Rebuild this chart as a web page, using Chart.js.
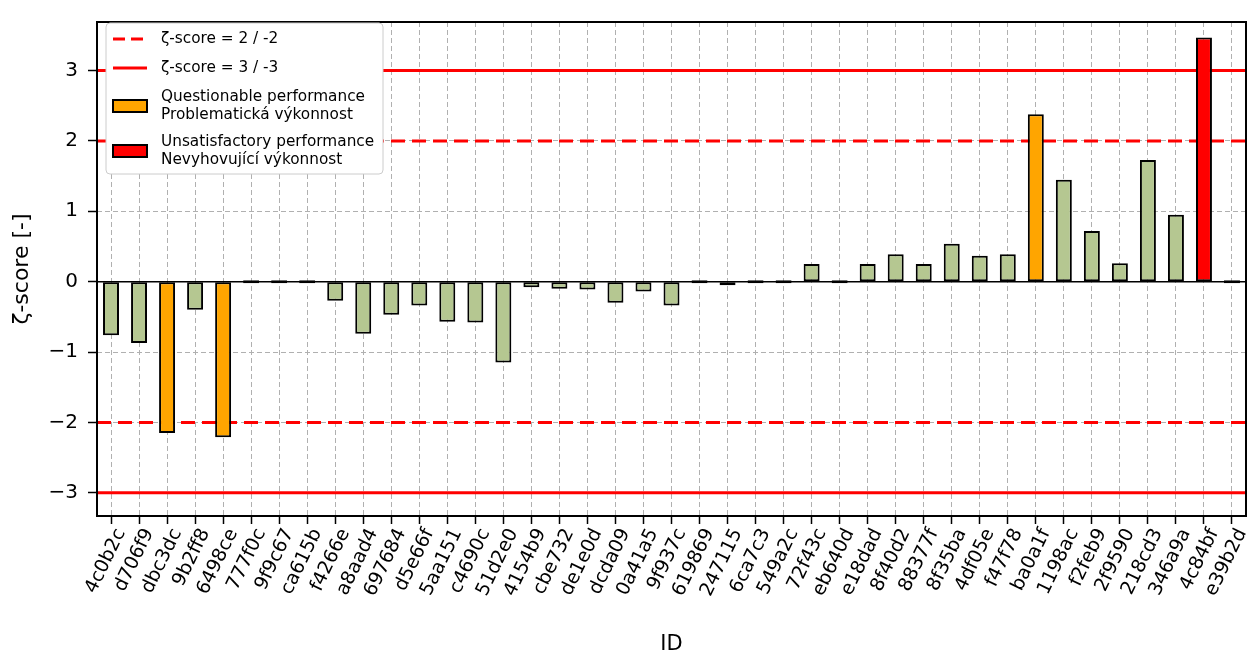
<!DOCTYPE html>
<html>
<head>
<meta charset="utf-8">
<script src="https://cdn.jsdelivr.net/npm/chart.js@4"></script>
<style>
  html, body { margin: 0; padding: 0; background: #fff; }
  #wrap { width: 1259px; height: 657px; position: relative; }
</style>
</head>
<body>
<div id="wrap"><canvas id="chart"></canvas></div>
<script>
// lab IDs and their zeta-scores
const ids = ['4c0b2c', 'd706f9', 'dbc3dc', '9b2ff8', '6498ce', '777f0c', '9f9c67', 'ca615b',
  'f4266e', 'a8aad4', '697684', 'd5e66f', '5aa151', 'c4690c', '51d2e0', '4154b9', 'cbe732',
  'de1e0d', 'dcda09', '0a41a5', '9f937c', '619869', '247115', '6ca7c3', '549a2c', '72f43c',
  'eb640d', 'e18dad', '8f40d2', '88377f', '8f35ba', '4df05e', 'f47f78', 'ba0a1f', '1198ac',
  'f2feb9', '2f9590', '218cd3', '346a9a', '4c84bf', 'e39b2d'];
const zScores = [-0.76, -0.87, -2.15, -0.40, -2.21, 0, 0, 0,
  -0.27, -0.74, -0.47, -0.34, -0.57, -0.58, -1.15, -0.08, -0.10,
  -0.11, -0.30, -0.14, -0.34, 0, -0.05, 0, 0, 0.25,
  0, 0.25, 0.39, 0.25, 0.54, 0.37, 0.39, 2.38, 1.45,
  0.72, 0.26, 1.73, 0.95, 3.47, 0];
const yTicks = [-3, -2, -1, 0, 1, 2, 3];
const warnLevels = [2, -2];
const actionLevels = [3, -3];

const GREEN = '#b5c791';
const ORANGE = '#ffa500';
const RED = '#ff0000';

function barColor(z) {
  const a = Math.abs(z);
  if (a >= 3) return RED;
  if (a >= 2) return ORANGE;
  return GREEN;
}

const minus = v => (v < 0 ? '\u2212' + Math.abs(v) : String(v));

const refLines = {
  id: 'refLines',
  beforeDatasetsDraw(chart) {
    const { ctx, chartArea: a, scales: { y } } = chart;
    ctx.save();
    ctx.beginPath();
    ctx.rect(a.left, a.top, a.right - a.left, a.bottom - a.top);
    ctx.clip();
    const hline = (v, color, w, dash) => {
      const py = y.getPixelForValue(v);
      ctx.beginPath();
      ctx.strokeStyle = color;
      ctx.lineWidth = w;
      ctx.setLineDash(dash);
      ctx.moveTo(a.left, py);
      ctx.lineTo(a.right, py);
      ctx.stroke();
    };
    hline(0, '#000', 1.5, []);
    warnLevels.forEach(v => hline(v, RED, 3, [14, 7]));
    actionLevels.forEach(v => hline(v, RED, 3, []));
    ctx.restore();
  },
  afterDraw(chart) {
    const { ctx, chartArea: a } = chart;
    ctx.save();
    // frame
    ctx.strokeStyle = '#000';
    ctx.lineWidth = 2;
    ctx.setLineDash([]);
    ctx.strokeRect(a.left, a.top, a.right - a.left, a.bottom - a.top);

    // legend box
    const bx = a.left + 9, by = a.top + 1, bw = 277, bh = 151;
    ctx.beginPath();
    ctx.roundRect(bx, by, bw, bh, 4);
    ctx.fillStyle = '#fff';
    ctx.fill();
    ctx.strokeStyle = '#cccccc';
    ctx.lineWidth = 1;
    ctx.stroke();

    ctx.font = '15.3px "DejaVu Sans"';
    ctx.fillStyle = '#000';
    ctx.textBaseline = 'middle';
    const tx = bx + 55;
    const sx0 = bx + 7, sx1 = bx + 41;

    const lineEntry = (yy, dash, text) => {
      ctx.beginPath();
      ctx.strokeStyle = RED;
      ctx.lineWidth = 3;
      ctx.setLineDash(dash);
      ctx.moveTo(sx0, yy);
      ctx.lineTo(sx1, yy);
      ctx.stroke();
      ctx.setLineDash([]);
      ctx.fillStyle = '#000';
      ctx.fillText(text, tx, yy);
    };
    const patchEntry = (yy, color, lines) => {
      ctx.fillStyle = color;
      ctx.fillRect(sx0, yy - 6, sx1 - sx0, 12);
      ctx.strokeStyle = '#000';
      ctx.lineWidth = 2;
      ctx.strokeRect(sx0, yy - 6, sx1 - sx0, 12);
      ctx.fillStyle = '#000';
      ctx.fillText(lines[0], tx, yy - 9);
      ctx.fillText(lines[1], tx, yy + 9);
    };
    lineEntry(by + 16, [12, 6], '\u03b6-score = 2 / -2');
    lineEntry(by + 45, [], '\u03b6-score = 3 / -3');
    patchEntry(by + 83, ORANGE, ['Questionable performance', 'Problematick\u00e1 v\u00fdkonnost']);
    patchEntry(by + 128, RED, ['Unsatisfactory performance', 'Nevyhovuj\u00edc\u00ed v\u00fdkonnost']);
    ctx.restore();
  }
};

const gridOpts = {
  color: '#b0b0b0',
  lineWidth: 1,
  drawTicks: true,
  tickLength: 8,
  tickColor: '#000',
  tickWidth: 1.5,
  tickBorderDash: []
};

new Chart(document.getElementById('chart'), {
  type: 'bar',
  data: {
    labels: ids,
    datasets: [{
      data: zScores,
      backgroundColor: zScores.map(barColor),
      borderColor: '#000',
      borderWidth: 2,
      borderSkipped: false,
      minBarLength: 3,
      barPercentage: 0.57,
      categoryPercentage: 1.0
    }]
  },
  options: {
    responsive: true,
    maintainAspectRatio: false,
    animation: false,
    devicePixelRatio: 1,
    layout: { padding: { top: 20, right: 13, left: 0, bottom: 0 } },
    plugins: {
      legend: { display: false },
      tooltip: { enabled: false }
    },
    scales: {
      x: {
        offset: true,
        grid: Object.assign({ offset: false }, gridOpts),
        border: { display: false, dash: [5, 3] },
        ticks: {
          color: '#000',
          font: { family: 'DejaVu Sans', size: 19 },
          minRotation: 64,
          maxRotation: 64,
          autoSkip: false,
          padding: 1,
          labelOffset: 10
        },
        title: {
          display: true,
          text: 'ID',
          color: '#000',
          font: { family: 'DejaVu Sans', size: 21 },
          padding: { top: 0, bottom: 0 }
        },
        afterFit(scale) { scale.height = 141; }
      },
      y: {
        min: -3.33,
        max: 3.69,
        afterBuildTicks(scale) { scale.ticks = yTicks.map(v => ({ value: v })); },
        grid: Object.assign({}, gridOpts, { tickLength: 9 }),
        border: { display: false, dash: [5, 3] },
        ticks: {
          color: '#000',
          font: { family: 'DejaVu Sans', size: 20 },
          padding: 10,
          callback: v => minus(v)
        },
        title: {
          display: true,
          text: '\u03b6-score [-]',
          color: '#000',
          font: { family: 'DejaVu Sans', size: 22 },
          padding: { top: 9, bottom: 0 }
        },
        afterFit(scale) { scale.width = 97; }
      }
    }
  },
  plugins: [refLines]
});
</script>
</body>
</html>
